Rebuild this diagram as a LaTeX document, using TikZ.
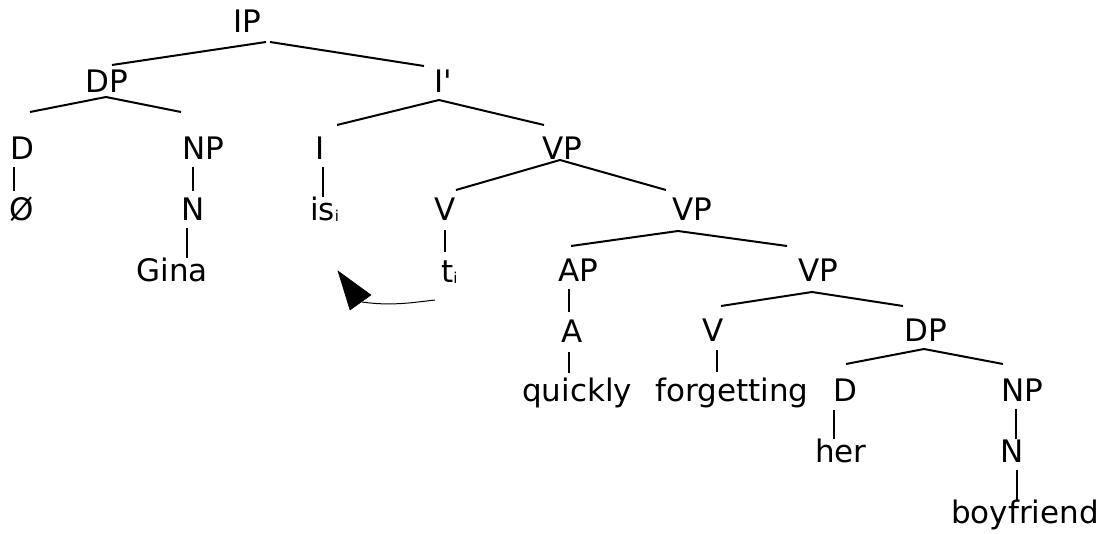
\documentclass[tikz,border=0pt]{standalone}
\usepackage{fontspec}
\setmainfont{DejaVu Sans}[Ligatures=TeXOff]
\newcommand{\subi}{{\fontsize{15}{15}\selectfont\raisebox{-1pt}{i}}}
\begin{document}
\begin{tikzpicture}[x=1pt,y=-1pt,
  lbl/.style={anchor=base,inner sep=0pt,font=\fontsize{31}{36}\selectfont},
  lblw/.style={anchor=base west,inner sep=0pt,font=\fontsize{31}{36}\selectfont},
  edge/.style={line width=2pt},
  movearrow/.style={line width=1pt},
  arrowhead/.style={fill=black,draw=black,line width=0.5pt,line join=miter}]
\useasboundingbox (0,0) rectangle (1109,534);
% nodes
\node[lbl] (IP) at (247,33) {IP};
\node[lbl] (DP) at (107,93) {DP};
\node[lbl] (Ibar) at (443,93) {I'};
\node[lbl] (D) at (22,160) {D};
\node[lbl] (NP) at (203,160) {NP};
\node[lbl] (I) at (320,160) {I};
\node[lbl] (VPa) at (562,160) {VP};
\node[lbl] (null) at (22,221) {Ø};
\node[lbl] (N) at (193,221) {N};
\node[lblw] (is) at (310,221) {is\subi};
\node[lbl] (Va) at (445,221) {V};
\node[lbl] (VPb) at (692,221) {VP};
\node[lbl] (Gina) at (172,282) {Gina};
\node[lblw] (t) at (441,283) {t\subi};
\node[lbl] (AP) at (578,282) {AP};
\node[lbl] (VPc) at (818,282) {VP};
\node[lbl] (A) at (572,343) {A};
\node[lbl] (Vb) at (713,342) {V};
\node[lbl] (DPb) at (926,342) {DP};
\node[lbl] (quickly) at (577,402) {quickly};
\node[lbl] (forgetting) at (732,402) {forgetting};
\node[lbl] (Db) at (845,402) {D};
\node[lbl] (NPb) at (1022,402) {NP};
\node[lbl] (her) at (841,463) {her};
\node[lbl] (Nb) at (1012,463) {N};
\node[lbl] (boyfriend) at (1025,523) {boyfriend};
% line end points
\coordinate (IPl) at (266,42); \coordinate (IPr) at (270,42);
\coordinate (DPt) at (112,65); \coordinate (Ibart) at (424,66);
\coordinate (DPa) at (106,97); \coordinate (Dt) at (30,112); \coordinate (NPt) at (181,112);
\coordinate (Db1) at (14,167); \coordinate (nullt) at (14,191);
\coordinate (NPb1) at (193,167); \coordinate (Nt) at (193,191);
\coordinate (Nb1) at (187,228); \coordinate (Ginat) at (187,258);
\coordinate (Ibara) at (439,100); \coordinate (It) at (337,125); \coordinate (VPat) at (544,125);
\coordinate (Ib1) at (323,167); \coordinate (ist) at (323,197);
\coordinate (VPaa) at (560,160); \coordinate (Vat) at (456,190); \coordinate (VPbt) at (666,190);
\coordinate (Va1) at (445,230); \coordinate (tt) at (445,252);
\coordinate (VPba) at (678,231); \coordinate (APt) at (571,246); \coordinate (VPct) at (787,246);
\coordinate (AP1) at (569,289); \coordinate (At) at (569,312);
\coordinate (A1) at (569,352); \coordinate (quicklyt) at (569,373);
\coordinate (VPca) at (812,292); \coordinate (Vbt) at (721,306); \coordinate (DPbt) at (903,306);
\coordinate (Vb1) at (717,350); \coordinate (forgettingt) at (717,372);
\coordinate (DPba) at (924,349); \coordinate (Dbt) at (846,364); \coordinate (NPbt) at (1003,364);
\coordinate (Dbb) at (834,410); \coordinate (hert) at (834,439);
\coordinate (NPbb) at (1016,409); \coordinate (Nbt) at (1016,439);
\coordinate (Nbb) at (1017,470); \coordinate (boyfriendt) at (1017,500);
\coordinate (arrs) at (435,300); \coordinate (arrb) at (362,302);
\coordinate (tip) at (338,271); \coordinate (hb1) at (350,310); \coordinate (hb2) at (371,295);
% edges
\draw[edge] (IPl) -- (DPt);
\draw[edge] (IPr) -- (Ibart);
\draw[edge] (Dt) -- (DPa) -- (NPt);
\draw[edge] (Db1) -- (nullt);
\draw[edge] (NPb1) -- (Nt);
\draw[edge] (Nb1) -- (Ginat);
\draw[edge] (It) -- (Ibara) -- (VPat);
\draw[edge] (Ib1) -- (ist);
\draw[edge] (Vat) -- (VPaa) -- (VPbt);
\draw[edge] (Va1) -- (tt);
\draw[edge] (APt) -- (VPba) -- (VPct);
\draw[edge] (AP1) -- (At);
\draw[edge] (A1) -- (quicklyt);
\draw[edge] (Vbt) -- (VPca) -- (DPbt);
\draw[edge] (Vb1) -- (forgettingt);
\draw[edge] (Dbt) -- (DPba) -- (NPbt);
\draw[edge] (Dbb) -- (hert);
\draw[edge] (NPbb) -- (Nbt);
\draw[edge] (Nbb) -- (boyfriendt);
% movement arrow
\draw[movearrow] (arrs) .. controls (410,303) and (390,306) .. (arrb);
\filldraw[arrowhead] (tip) -- (hb1) -- (hb2) -- cycle;
\end{tikzpicture}
\end{document}
